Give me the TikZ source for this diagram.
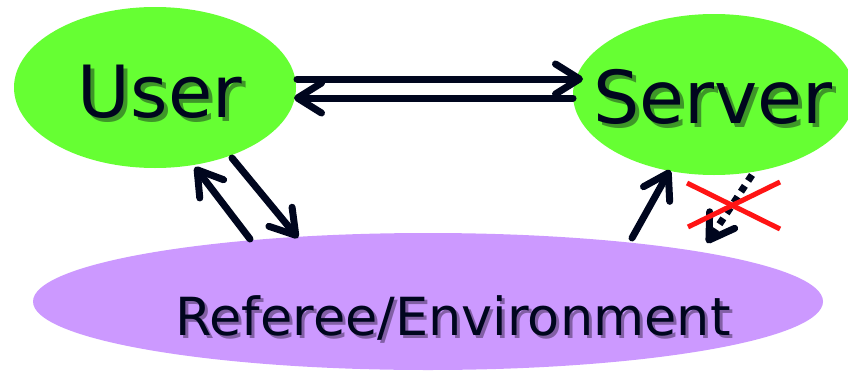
\documentclass[tikz,border=0pt]{standalone}
\usepackage{fontspec}
\newfontfamily\lbl{DejaVu Sans}
\usetikzlibrary{shapes.geometric,arrows.meta}
\definecolor{ngreen}{RGB}{102,255,51}
\definecolor{npurple}{RGB}{204,153,255}
\definecolor{navy}{RGB}{0,6,30}
\definecolor{xred}{RGB}{255,20,20}
\definecolor{gshadow}{RGB}{62,150,40}
\definecolor{pshadow}{RGB}{130,95,165}
\newcommand\shtxt[3]{\rlap{\raisebox{-#1}{\hspace{#1}\textcolor{#2}{#3}}}#3}
\tikzset{
  blob/.style={ellipse, inner sep=0pt, draw=none},
  lab/.style={anchor=base, inner sep=0pt, text=navy, font=\lbl},
  conn/.style={draw=navy, line width=7pt, line cap=round, line join=round,
    -{Straight Barb[length=24pt, width=30pt, line cap=round, line join=round]}},
  dotconn/.style={conn, line cap=butt, dash pattern=on 7pt off 6pt},
  cross/.style={draw=xred, line width=5pt}
}
\begin{document}
\begin{tikzpicture}[x=1pt,y=-1pt]
\useasboundingbox (0,0) rectangle (848,372);
% ellipses
\node[blob, fill=ngreen, minimum width=282pt, minimum height=161pt] (user) at (155,87.5) {};
\node[blob, fill=ngreen, minimum width=282pt, minimum height=161pt] (server) at (714,94.5) {};
\node[blob, fill=npurple, minimum width=790pt, minimum height=137pt] (ref) at (428,301.5) {};
% labels with shadows
\node[lab, font=\lbl\fontsize{72}{72}\selectfont] (tuser) at (160,117) {\shtxt{4pt}{gshadow}{User}};
\node[lab, font=\lbl\fontsize{73}{73}\selectfont] (tserver) at (713,123) {\shtxt{4pt}{gshadow}{Server}};
\node[lab, font=\lbl\fontsize{52.5}{52.5}\selectfont] (tref) at (453,335) {\shtxt{3pt}{pshadow}{Referee/Environment}};
% connector end points
\coordinate (u1) at (297,79);
\coordinate (s1) at (583,79);
\coordinate (s2) at (573,98);
\coordinate (u2) at (294,98);
\coordinate (r1) at (250,239);
\coordinate (u3) at (195,167);
\coordinate (u4) at (232,158);
\coordinate (r2) at (298,238);
\coordinate (r3) at (632,238);
\coordinate (s3) at (670,170);
\coordinate (s4) at (752,175);
\coordinate (r4) at (707,243);
\coordinate (xa) at (687,183);
\coordinate (xb) at (780,229);
\coordinate (xc) at (688,227);
\coordinate (xd) at (780,182);
% connectors
\draw[conn] (u1) -- (s1);
\draw[conn] (s2) -- (u2);
\draw[conn] (r1) -- (u3);
\draw[conn] (u4) -- (r2);
\draw[conn] (r3) -- (s3);
\draw[dotconn] (s4) -- (r4);
% red cross
\draw[cross] (xa) -- (xb);
\draw[cross] (xc) -- (xd);
\end{tikzpicture}
\end{document}
